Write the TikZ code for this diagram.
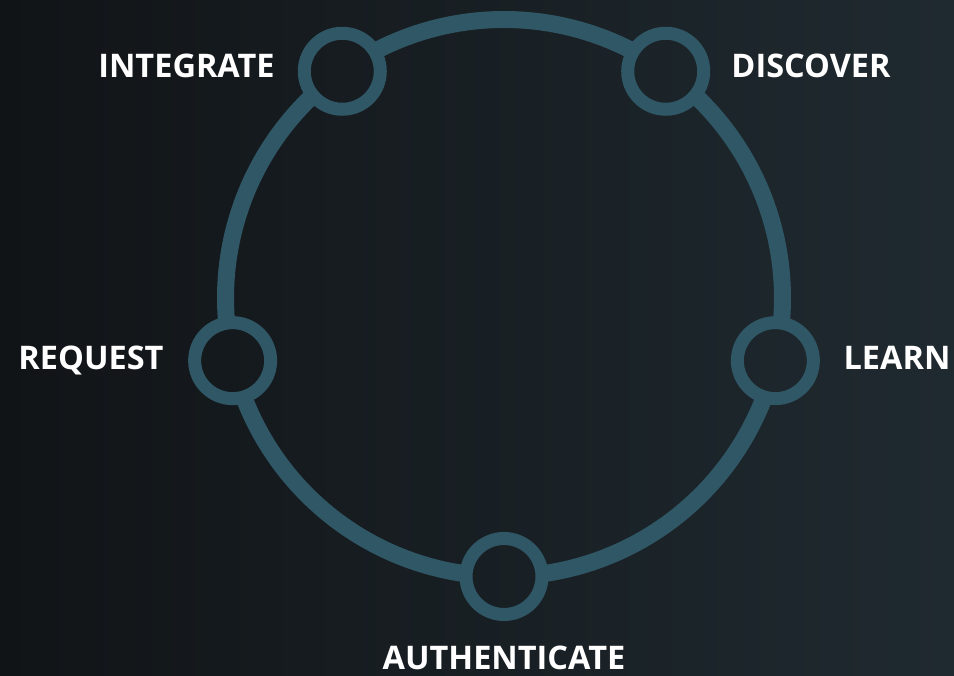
\documentclass[tikz,border=0pt]{standalone}
\usepackage{fontspec}
\setmainfont{Open Sans}
\definecolor{bgL}{RGB}{17,20,23}
\definecolor{bgR}{RGB}{31,42,48}
\definecolor{ringc}{RGB}{48,87,101}
\tikzset{
  ring/.style={draw=ringc, line width=17pt},
  dot/.style={circle, draw=ringc, line width=13pt, minimum size=76pt, inner sep=0pt},
  lbl/.style={text=white, font=\bfseries\fontsize{32.5}{38}\selectfont, inner sep=0pt, anchor=base}
}
\begin{document}
\begin{tikzpicture}[x=1pt,y=1pt]
\shade[left color=bgL, right color=bgR, shading angle=90] (0,0) rectangle (954,676);
\useasboundingbox (0,0) rectangle (954,676);
\begin{scope}[shift={(504,378)}]
  \def\R{278.5}
  \def\d{7.82}
  \draw[ring] (54.5+\d:\R) arc[start angle=54.5+\d, end angle=125.5-\d, radius=\R];
  \draw[ring] (125.5+\d:\R) arc[start angle=125.5+\d, end angle=193-\d, radius=\R];
  \draw[ring] (193+\d:\R) arc[start angle=193+\d, end angle=270-\d, radius=\R];
  \draw[ring] (270+\d:\R) arc[start angle=270+\d, end angle=347-\d, radius=\R];
  \draw[ring] (347+\d:\R) arc[start angle=347+\d, end angle=414.5-\d, radius=\R];
  \node[dot] (disc) at (54.5:\R) {};
  \node[dot] (integ) at (125.5:\R) {};
  \node[dot] (req) at (193:\R) {};
  \node[dot] (auth) at (270:\R) {};
  \node[dot] (learn) at (347:\R) {};
\end{scope}
\node[lbl] (tdisc) at (811,598.5) {DISCOVER};
\node[lbl] (tinteg) at (186.5,598.5) {INTEGRATE};
\node[lbl] (treq) at (91,306) {REQUEST};
\node[lbl] (tlearn) at (897,306) {LEARN};
\node[lbl] (tauth) at (504,6.5) {AUTHENTICATE};
\end{tikzpicture}
\end{document}
